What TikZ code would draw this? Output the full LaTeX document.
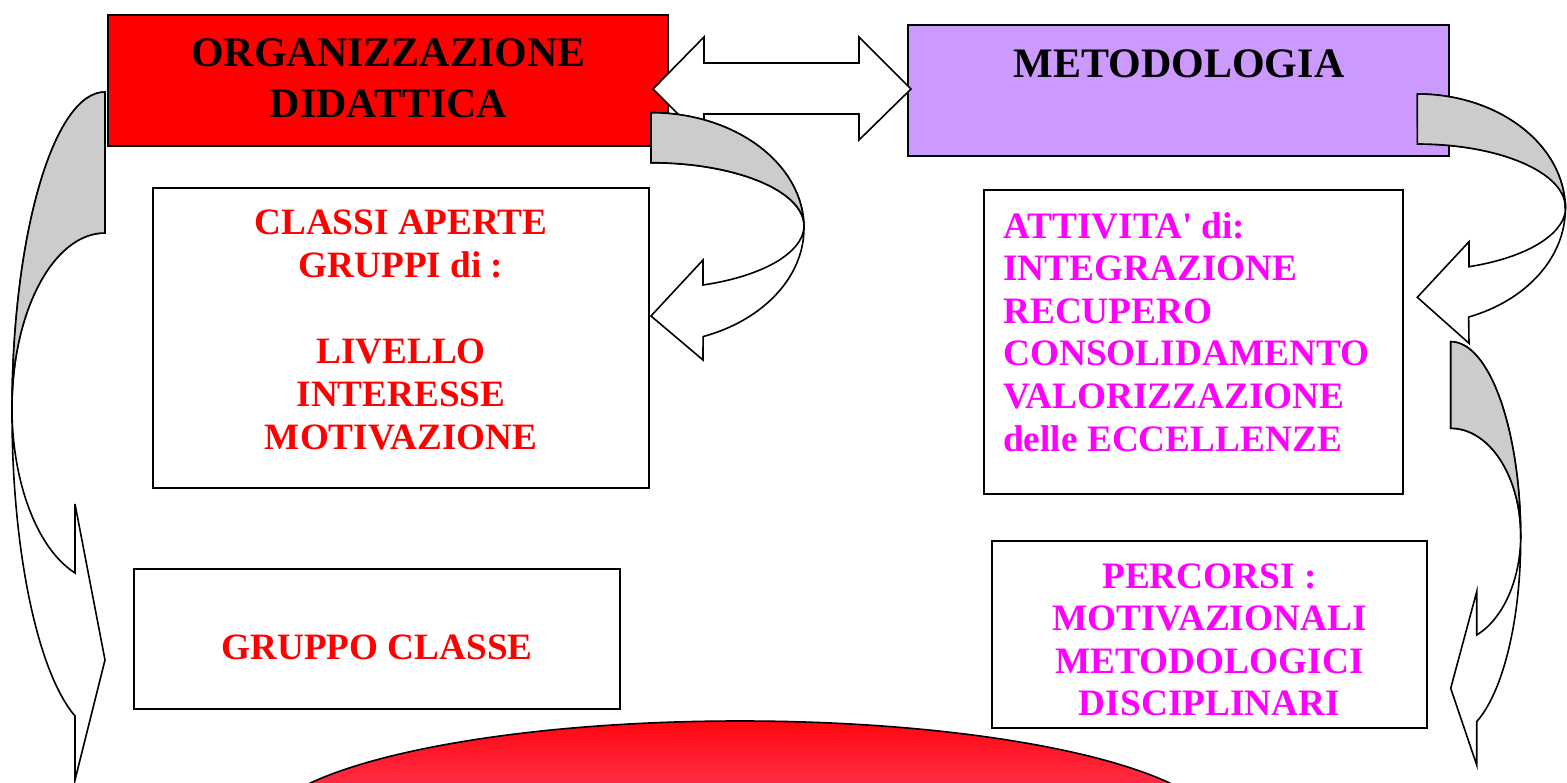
\documentclass[tikz,border=0pt]{standalone}
\usepackage{fontspec}
\setmainfont{Liberation Serif}[Ligatures=TeXOff]
\definecolor{violetbox}{RGB}{204,153,255}
\definecolor{grayband}{RGB}{204,204,204}
\definecolor{magtext}{RGB}{255,0,255}
\definecolor{redtext}{RGB}{255,0,0}
\definecolor{elltop}{RGB}{255,5,12}
\definecolor{ellbot}{RGB}{255,48,75}
\begin{document}
\begin{tikzpicture}[x=1pt,y=-1pt,
  box/.style={draw=black, line width=1.8pt, rectangle, inner sep=0pt},
  band/.style={draw=black, line width=1.6pt, fill=white, line join=miter},
  back/.style={draw=black, line width=1.6pt, fill=grayband},
  bigtxt/.style={font=\bfseries\fontsize{42}{51}\selectfont, inner sep=0pt, align=center},
  redtxt/.style={font=\bfseries\fontsize{37.2}{43}\selectfont, inner sep=0pt, text=redtext},
  magtxt/.style={font=\bfseries\fontsize{37.3}{42.6}\selectfont, inner sep=0pt, text=magtext},
]
\useasboundingbox (0,0) rectangle (1567,783);
\fill[white] (0,0) rectangle (1567,783);

% boxes
\node[box, fill=red, minimum width=560pt, minimum height=131pt] (org) at (388,80.5) {};
\node[box, fill=violetbox, minimum width=541pt, minimum height=131pt] (met) at (1178.5,90.5) {};
\node[box, minimum width=496pt, minimum height=300pt] (classi) at (401,338) {};
\node[box, minimum width=419pt, minimum height=304pt] (attiv) at (1193.5,342) {};
\node[box, minimum width=486pt, minimum height=140pt] (gruppo) at (377,639) {};
\node[box, minimum width=435pt, minimum height=187pt] (percorsi) at (1209.5,634.5) {};

% texts
\node[bigtxt, anchor=north] (orgt) at (388.5,38.6) {ORGANIZZAZIONE\\DIDATTICA};
\node[bigtxt, anchor=north] (mett) at (1179,49.1) {METODOLOGIA};
\node[redtxt, anchor=north, align=center] (classit) at (401,209.75)
  {CLASSI APERTE\\GRUPPI di :\\ \\LIVELLO\\INTERESSE\\MOTIVAZIONE};
\node[magtxt, anchor=north west, align=left] (attivt) at (1003,212)
  {ATTIVITA' di:\\INTEGRAZIONE\\RECUPERO\\CONSOLIDAMENTO\\VALORIZZAZIONE\\delle ECCELLENZE};
\node[redtxt, anchor=north] (gruppot) at (377,634.75) {GRUPPO CLASSE};
\node[magtxt, anchor=north, align=center, font=\bfseries\fontsize{37.3}{42.3}\selectfont] (percorsit) at (1209.5,563.75)
  {PERCORSI :\\MOTIVAZIONALI\\METODOLOGICI\\DISCIPLINARI};

% double arrow between the two headers
\draw[band] (653,89) -- (704,37) -- (704,63) -- (859,63) -- (859,37) -- (911,89)
  -- (859,140) -- (859,114) -- (704,114) -- (704,140) -- cycle;

% left curved arrow (bulges left, head points right)
\draw[band] (105,92) arc[start angle=270, end angle=108.8, x radius=93, y radius=320.6]
  -- (75,780) -- (105,660) -- (75,504) -- (75,573)
  arc[start angle=108.8, end angle=270, x radius=93, y radius=174.7] -- cycle;
\draw[back] (105,92) arc[start angle=270, end angle=180, x radius=93, y radius=320.6]
  -- (12,407.7) arc[start angle=180, end angle=270, x radius=93, y radius=174.7] -- cycle;

% curved arrow right of the red box
\draw[band] (651,112.7) arc[start angle=270, end angle=430.1, x radius=153, y radius=115.4]
  -- (703,360) -- (651,316) -- (703,260) -- (703,285)
  arc[start angle=430.1, end angle=270, x radius=153, y radius=63] -- cycle;
\draw[back] (651,112.7) arc[start angle=270, end angle=360, x radius=153, y radius=115.4]
  -- (804,225.7) arc[start angle=360, end angle=270, x radius=153, y radius=63] -- cycle;

% curved arrow right of the violet box
\draw[band] (1417.3,94) arc[start angle=270, end angle=429.7, x radius=148, y radius=115.1]
  -- (1469,343.3) -- (1417.3,297.3) -- (1469,241.7) -- (1469,266.7)
  arc[start angle=429.7, end angle=270, x radius=148, y radius=63.3] -- cycle;
\draw[back] (1417.3,94) arc[start angle=270, end angle=360, x radius=148, y radius=115.1]
  -- (1565.3,207.3) arc[start angle=360, end angle=270, x radius=148, y radius=63.3] -- cycle;

% lower right curved arrow
\draw[band] (1450.7,341.7) arc[start angle=270, end angle=428.2, x radius=70, y radius=197]
  -- (1476.7,765) -- (1450.7,688.3) -- (1476.7,591.7) -- (1476.7,635)
  arc[start angle=428.2, end angle=270, x radius=70, y radius=107.2] -- cycle;
\draw[back] (1450.7,341.7) arc[start angle=270, end angle=360, x radius=70, y radius=197]
  -- (1520.7,535.5) arc[start angle=360, end angle=270, x radius=70, y radius=107.2] -- cycle;

% bottom red ellipse
\begin{scope}
  \clip (740,833) ellipse [x radius=480, y radius=112];
  \shade[top color=elltop, bottom color=ellbot] (250,718) rectangle (1230,790);
\end{scope}
\draw[line width=1.6pt] (740,833) ellipse [x radius=480, y radius=112];
\end{tikzpicture}
\end{document}
